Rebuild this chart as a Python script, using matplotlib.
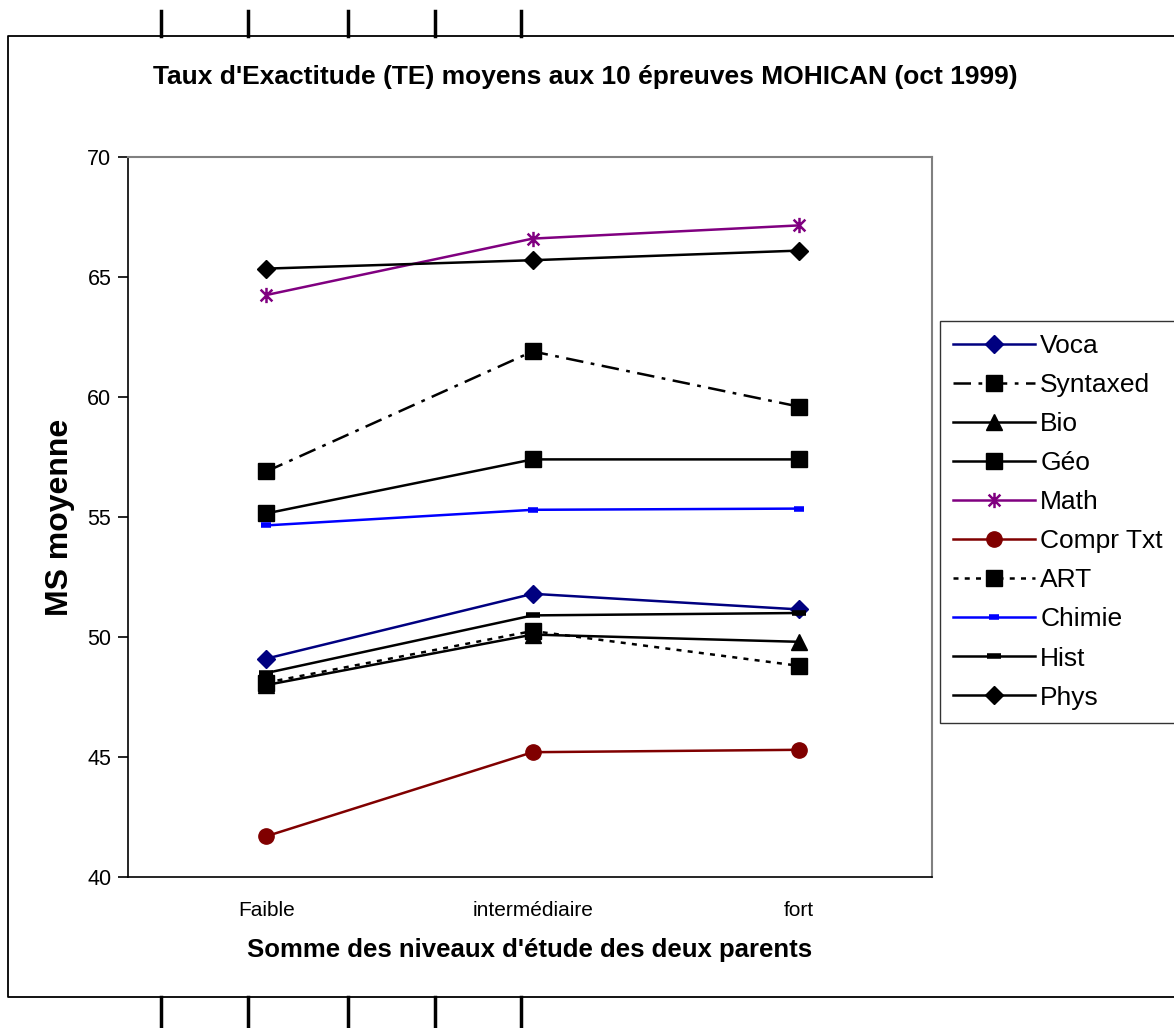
import matplotlib
matplotlib.use("Agg")
from matplotlib import pyplot as plt
from matplotlib.path import Path
from matplotlib.lines import Line2D

plt.rcParams['font.family'] = ['Liberation Sans', 'DejaVu Sans']

CATEGORIES = ['Faible', 'intermédiaire', 'fort']

VOCA = [49.1, 51.8, 51.15]
SYNTAXED = [56.9, 61.9, 59.6]
BIO = [48.0, 50.1, 49.8]
GEO = [55.15, 57.4, 57.4]
MATH = [64.25, 66.6, 67.15]
COMPR_TXT = [41.7, 45.2, 45.3]
ART = [48.1, 50.25, 48.8]
CHIMIE = [54.65, 55.3, 55.35]
HIST = [48.5, 50.9, 51.0]
PHYS = [65.35, 65.7, 66.1]

W, H = 1174, 1028

# asterisk marker like the excel one
STAR = Path([(-1, -1), (1, 1), (-1, 1), (1, -1), (0, -1.3), (0, 1.3)],
            [Path.MOVETO, Path.LINETO, Path.MOVETO, Path.LINETO, Path.MOVETO, Path.LINETO])

fig = plt.figure(figsize=(W / 100, H / 100), dpi=100)
ax = fig.add_axes([128 / W, 1 - 877 / H, (932 - 128) / W, (877 - 157) / H])

x = range(len(CATEGORIES))
lw = 1.8
series = [
    ('Voca', VOCA, dict(color='#000080', marker='D', ms=9)),
    ('Syntaxed', SYNTAXED, dict(color='black', marker='s', ms=11, dashes=(7, 3, 1.5, 3))),
    ('Bio', BIO, dict(color='black', marker='^', ms=11)),
    ('Géo', GEO, dict(color='black', marker='s', ms=11)),
    ('Math', MATH, dict(color='#800080', marker=STAR, ms=11, mfc='none', mew=1.8)),
    ('Compr Txt', COMPR_TXT, dict(color='#800000', marker='o', ms=11)),
    ('ART', ART, dict(color='black', marker='s', ms=11, dashes=(2, 2.5))),
    ('Chimie', CHIMIE, dict(color='#0000FF', marker='_', ms=7, mew=4)),
    ('Hist', HIST, dict(color='black', marker='_', ms=10, mew=4)),
    ('Phys', PHYS, dict(color='black', marker='D', ms=9)),
]
for name, vals, style in series:
    ax.plot(x, vals, lw=lw, label=name, **style)

ax.set_xlim(-0.52, 2.5)
ax.set_ylim(40, 70)
ax.set_yticks(range(40, 71, 5))
ax.set_xticks(list(x))
ax.set_xticklabels(CATEGORIES)
ax.tick_params(axis='x', length=0, pad=17, labelsize=15)
ax.tick_params(axis='y', direction='out', length=7, width=1.2, pad=5, labelsize=15.5)
for side in ['top', 'right']:
    ax.spines[side].set_color('#808080')
    ax.spines[side].set_linewidth(1.5)
for side in ['left', 'bottom']:
    ax.spines[side].set_color('black')
    ax.spines[side].set_linewidth(1.2)

ax.set_ylabel('MS moyenne', fontsize=23, fontweight='bold', labelpad=9)
ax.set_xlabel("Somme des niveaux d'étude des deux parents", fontsize=18.5,
              fontweight='bold', labelpad=13)
fig.text(585 / W, 1 - 77 / H, "Taux d'Exactitude (TE) moyens aux 10 épreuves MOHICAN (oct 1999)",
         ha='center', va='center', fontsize=19, fontweight='bold')

leg = fig.legend(loc='upper left', bbox_to_anchor=(940 / W, 1 - 321 / H), fontsize=19,
                 handlelength=3.1, handletextpad=0.2, labelspacing=0.57,
                 borderaxespad=0, borderpad=0.5, frameon=True, fancybox=False)
leg.get_frame().set_edgecolor('black')
leg.get_frame().set_linewidth(1.0)

# outer chart frame and the little marks above and below it
def px_line(xs, ys, **kw):
    fig.add_artist(Line2D([v / W for v in xs], [1 - v / H for v in ys],
                          transform=fig.transFigure, color='black', **kw))

px_line([1190, 8, 8, 1190], [36, 36, 997, 997], lw=1.3)
for mx in [161, 248, 348, 435, 521]:
    px_line([mx, mx], [11, 36], lw=2.5)
    px_line([mx, mx], [997, 1028], lw=2.5)

fig.savefig('out.png', dpi=100)
